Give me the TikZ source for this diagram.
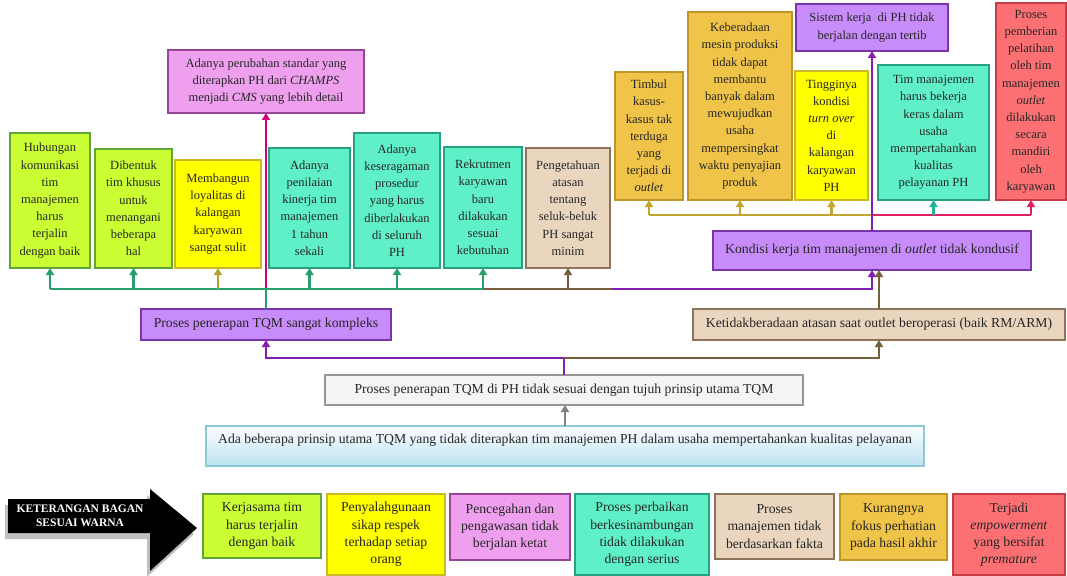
\documentclass[tikz,border=0pt]{standalone}
\usepackage{fontspec}
\setmainfont{Liberation Serif}
\usetikzlibrary{positioning, arrows.meta}

% fills and borders of the boxes
\definecolor{hijauIsi}{RGB}{204,255,51}   \definecolor{hijauTepi}{RGB}{95,165,55}
\definecolor{kuningIsi}{RGB}{255,255,0}   \definecolor{kuningTepi}{RGB}{205,185,40}
\definecolor{toscaIsi}{RGB}{96,240,200}   \definecolor{toscaTepi}{RGB}{40,160,130}
\definecolor{coklatIsi}{RGB}{234,214,190} \definecolor{coklatTepi}{RGB}{140,115,90}
\definecolor{emasIsi}{RGB}{240,196,72}    \definecolor{emasTepi}{RGB}{190,150,40}
\definecolor{pinkIsi}{RGB}{238,160,238}   \definecolor{pinkTepi}{RGB}{150,70,150}
\definecolor{unguIsi}{RGB}{200,140,250}   \definecolor{unguTepi}{RGB}{120,50,170}
\definecolor{salemIsi}{RGB}{252,112,116}  \definecolor{salemTepi}{RGB}{200,60,70}
\definecolor{abuIsi}{RGB}{244,244,244}    \definecolor{abuTepi}{RGB}{150,150,150}
\definecolor{biruAtas}{RGB}{252,254,255}  \definecolor{biruBawah}{RGB}{188,226,242}
\definecolor{biruTepi}{RGB}{140,200,215}
% connectors
\definecolor{lHijau}{RGB}{40,160,110}
\definecolor{lZaitun}{RGB}{180,165,50}
\definecolor{lMagenta}{RGB}{210,0,120}
\definecolor{lUngu}{RGB}{130,30,180}
\definecolor{lCoklat}{RGB}{120,95,60}
\definecolor{lEmas}{RGB}{195,165,50}
\definecolor{lMerah}{RGB}{225,30,100}
\definecolor{lTosca}{RGB}{30,180,150}
\definecolor{lAbu}{RGB}{130,130,130}

\tikzset{
  kotak/.style={draw, line width=1.2pt, align=center, inner sep=2pt, outer sep=0pt, text=black!85,
                font=\fontsize{12.5}{17.2}\selectfont},
  besar/.style={font=\fontsize{13.7}{17.2}\selectfont},
  hijau/.style={kotak, fill=hijauIsi, draw=hijauTepi},
  kuning/.style={kotak, fill=kuningIsi, draw=kuningTepi},
  tosca/.style={kotak, fill=toscaIsi, draw=toscaTepi},
  coklat/.style={kotak, fill=coklatIsi, draw=coklatTepi},
  emas/.style={kotak, fill=emasIsi, draw=emasTepi},
  merahmuda/.style={kotak, fill=pinkIsi, draw=pinkTepi},
  ungu/.style={kotak, fill=unguIsi, draw=unguTepi},
  salem/.style={kotak, fill=salemIsi, draw=salemTepi},
  abu/.style={kotak, fill=abuIsi, draw=abuTepi},
  biru/.style={kotak, top color=biruAtas, bottom color=biruBawah, draw=biruTepi},
  garis/.style={line width=2.2pt},
  panah/.style={line width=2.2pt, -{Triangle[length=7pt,width=8pt]}}
}

\begin{document}
\begin{tikzpicture}[x=1pt, y=-1pt]
	\useasboundingbox (0,0) rectangle (1067,575);
	% upper row, left
	\node at (10,268) [hijau, anchor=south west, minimum width=80pt, minimum height=135pt] (hubungan) {Hubungan\\komunikasi\\tim\\manajemen\\harus\\terjalin\\dengan baik};
	\node [hijau, right=5pt of hubungan.south east, anchor=south west, minimum width=77pt, minimum height=119pt] (dibentuk) {Dibentuk\\tim khusus\\untuk\\menangani\\beberapa\\hal};
	\node [kuning, right=3pt of dibentuk.south east, anchor=south west, minimum width=86pt, minimum height=108pt] (loyalitas) {Membangun\\loyalitas di\\kalangan\\karyawan\\sangat sulit};
	\node [tosca, right=8pt of loyalitas.south east, anchor=south west, minimum width=81pt, minimum height=120pt] (penilaian) {Adanya\\penilaian\\kinerja tim\\manajemen\\1 tahun\\sekali};
	\node [tosca, right=4pt of penilaian.south east, anchor=south west, minimum width=86pt, minimum height=135pt] (keseragaman) {Adanya\\keseragaman\\prosedur\\yang harus\\diberlakukan\\di seluruh\\PH};
	\node [tosca, right=4pt of keseragaman.south east, anchor=south west, minimum width=78pt, minimum height=121pt] (rekrutmen) {Rekrutmen\\karyawan\\baru\\dilakukan\\sesuai\\kebutuhan};
	\node [coklat, right=4pt of rekrutmen.south east, anchor=south west, minimum width=84pt, minimum height=120pt] (pengetahuan) {Pengetahuan\\atasan\\tentang\\seluk-beluk\\PH sangat\\minim};
	\node at (168,50) [merahmuda, anchor=north west, minimum width=196pt, minimum height=63pt] (perubahan) {Adanya perubahan standar yang\\diterapkan PH dari \textit{CHAMPS}\\menjadi \textit{CMS} yang lebih detail};
	% upper row, right
	\node at (615,200) [emas, anchor=south west, minimum width=68pt, minimum height=128pt] (timbul) {Timbul\\kasus-\\kasus tak\\terduga\\yang\\terjadi di\\\textit{outlet}};
	\node [emas, right=5pt of timbul.south east, anchor=south west, minimum width=104pt, minimum height=188pt] (keberadaan) {Keberadaan\\mesin produksi\\tidak dapat\\membantu\\banyak dalam\\mewujudkan\\usaha\\mempersingkat\\waktu penyajian\\produk};
	\node [kuning, right=3pt of keberadaan.south east, anchor=south west, minimum width=73pt, minimum height=129pt] (tingginya) {Tingginya\\kondisi\\\textit{turn over}\\di\\kalangan\\karyawan\\PH};
	\node [tosca, right=10pt of tingginya.south east, anchor=south west, minimum width=111pt, minimum height=135pt] (timkerja) {Tim manajemen\\harus bekerja\\keras dalam\\usaha\\mempertahankan\\kualitas\\pelayanan PH};
	\node [salem, right=7pt of timkerja.south east, anchor=south west, minimum width=70pt, minimum height=197pt] (pelatihan) {Proses\\pemberian\\pelatihan\\oleh tim\\manajemen\\\textit{outlet}\\dilakukan\\secara\\mandiri\\oleh\\karyawan};
	\node at (796,4) [ungu, anchor=north west, minimum width=152pt, minimum height=47pt] (sistem) {Sistem kerja \ di PH tidak\\berjalan dengan tertib};
	% middle and lower boxes
	\node at (713,231) [ungu, besar, anchor=north west, minimum width=318pt, minimum height=39pt] (kondisi) {Kondisi kerja tim manajemen di \textit{outlet} tidak kondusif};
	\node at (141,309) [ungu, besar, anchor=north west, minimum width=250pt, minimum height=31pt] (kompleks) {Proses penerapan TQM sangat kompleks};
	\node at (693,309) [coklat, besar, anchor=north west, minimum width=372pt, minimum height=31pt] (ketidak) {Ketidakberadaan atasan saat outlet beroperasi (baik RM/ARM)};
	\node at (325,375) [abu, besar, anchor=north west, minimum width=478pt, minimum height=30pt] (tidaksesuai) {Proses penerapan TQM di PH tidak sesuai dengan tujuh prinsip utama TQM};
	\node at (206,426) [biru, besar, anchor=north west, minimum width=718pt, minimum height=40pt, text depth=15pt] (prinsip) {Ada beberapa prinsip utama TQM yang tidak diterapkan tim manajemen PH dalam usaha mempertahankan kualitas pelayanan};

	% connectors, bottom up
	\draw[panah, color=lAbu] (prinsip.north) -- (prinsip.north |- tidaksesuai.south);
	\path (tidaksesuai.north) ++(0,-17) coordinate (cabang);
	\draw[panah, color=lUngu] (tidaksesuai.north) -- (cabang) -| (kompleks.south);
	\draw[panah, color=lCoklat] (cabang) -| (ketidak.south);
	\draw[panah, color=lCoklat] (ketidak.north) -- (ketidak.north |- kondisi.south);
	\path (kondisi.south) ++(0,19) coordinate (jalur);
	\path (jalur) ++(-260,0) coordinate (ujung);
	\draw[panah, color=lUngu] (kompleks.north) |- (jalur) -- (kondisi.south);
	\draw[panah, color=lMagenta] (kompleks.north) -- (perubahan.south);
	\draw[garis, color=lHijau] (kompleks.north) -- (kompleks.north |- jalur);
	\draw[garis, color=lHijau] (hubungan.south |- jalur) -- (rekrutmen.south |- jalur);
	\foreach \n in {hubungan, dibentuk, penilaian, keseragaman, rekrutmen}
		\draw[panah, color=lHijau] (\n.south |- jalur) -- (\n.south);
	\draw[panah, color=lZaitun] (loyalitas.south |- jalur) -- (loyalitas.south);
	\draw[garis, color=lCoklat] (rekrutmen.south |- jalur) -- (ujung);
	\draw[panah, color=lCoklat] (pengetahuan.south |- jalur) -- (pengetahuan.south);
	% connectors above kondisi
	\path (kondisi.north) ++(0,-16) coordinate (atas);
	\draw[garis, color=lEmas] (atas) -- (atas -| timbul.south);
	\foreach \n in {timbul, keberadaan, tingginya}
		\draw[panah, color=lEmas] (\n.south |- atas) -- (\n.south);
	\draw[garis, color=lMerah] (kondisi.north) -- (atas) -- (atas -| pelatihan.south);
	\draw[panah, color=lTosca] (timkerja.south |- atas) -- (timkerja.south);
	\draw[panah, color=lMerah] (pelatihan.south |- atas) -- (pelatihan.south);
	\draw[panah, color=lUngu] (kondisi.north) -- (sistem.south);

	% legend
	\fill[black!25, shift={(-3,6)}] (8,499) -- (150,499) -- (150,489) -- (197,528) -- (150,571) -- (150,533) -- (8,533) -- cycle;
	\fill[black] (8,499) -- (150,499) -- (150,489) -- (197,528) -- (150,571) -- (150,533) -- (8,533) -- cycle;
	\node at (80,516) [text=white, align=center, font=\bfseries\fontsize{11.5}{14}\selectfont] (keterangan) {KETERANGAN BAGAN\\SESUAI WARNA};
	\node at (203,494) [hijau, besar, anchor=north west, minimum width=118pt, minimum height=64pt] (leg1) {Kerjasama tim\\harus terjalin\\dengan baik};
	\node [kuning, besar, right=6pt of leg1.north east, anchor=north west, minimum width=118pt, minimum height=81pt] (leg2) {Penyalahgunaan\\sikap respek\\terhadap setiap\\orang};
	\node [merahmuda, besar, right=5pt of leg2.north east, anchor=north west, minimum width=120pt, minimum height=66pt] (leg3) {Pencegahan dan\\pengawasan tidak\\berjalan ketat};
	\node [tosca, besar, right=5pt of leg3.north east, anchor=north west, minimum width=134pt, minimum height=81pt] (leg4) {Proses perbaikan\\berkesinambungan\\tidak dilakukan\\dengan serius};
	\node [coklat, besar, right=6pt of leg4.north east, anchor=north west, minimum width=119pt, minimum height=65pt] (leg5) {Proses\\manajemen tidak\\berdasarkan fakta};
	\node [emas, besar, right=6pt of leg5.north east, anchor=north west, minimum width=107pt, minimum height=66pt] (leg6) {Kurangnya\\fokus perhatian\\pada hasil akhir};
	\node [salem, besar, right=6pt of leg6.north east, anchor=north west, minimum width=112pt, minimum height=81pt] (leg7) {Terjadi\\\textit{empowerment}\\yang bersifat\\\textit{premature}};
\end{tikzpicture}
\end{document}
